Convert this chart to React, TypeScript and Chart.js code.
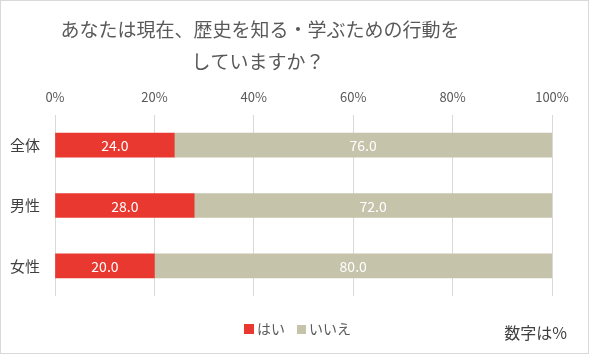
import React, { useEffect, useRef } from 'react';
import { Chart, registerables } from 'chart.js';
Chart.register(...registerables);

const categories = ['全体', '男性', '女性'];
const yesValues = [24.0, 28.0, 20.0];
const noValues = [76.0, 72.0, 80.0];
const seriesNames = ['はい', 'いいえ'];
const titleLines = ['あなたは現在、歴史を知る・学ぶための行動を', 'していますか？'];
const noteText = '数字は%';

const FONT = '"Noto Sans CJK JP", "Noto Sans", sans-serif';
const TEXT = '#595959';
const RED = '#E8382F';
const KHAKI = '#C5C3AA';

const labelPlugin = {
  id: 'valueLabels',
  afterDatasetsDraw(chart: any) {
    const ctx = chart.ctx;
    ctx.save();
    ctx.font = `14px ${FONT}`;
    ctx.fillStyle = '#ffffff';
    ctx.textAlign = 'center';
    ctx.textBaseline = 'middle';
    chart.data.datasets.forEach((ds: any, di: number) => {
      const meta = chart.getDatasetMeta(di);
      meta.data.forEach((el: any, i: number) => {
        const v = ds.data[i];
        const cx = (el.x + el.base) / 2;
        ctx.fillText(Number(v).toFixed(1), cx, el.y + 1);
      });
    });
    ctx.restore();
  },
};

const framePlugin = {
  id: 'frame',
  afterDraw(chart: any) {
    const ctx = chart.ctx;
    ctx.save();
    // frame
    ctx.strokeStyle = '#d9d9d9';
    ctx.lineWidth = 1;
    ctx.strokeRect(0.5, 0.5, chart.width - 1, chart.height - 1);
    // title
    ctx.font = `19px ${FONT}`;
    ctx.fillStyle = TEXT;
    ctx.textAlign = 'center';
    ctx.textBaseline = 'middle';
    ctx.fillText(titleLines[0], 260, 30);
    ctx.fillText(titleLines[1], 258, 62);
    // legend
    const ds = chart.data.datasets;
    ctx.font = `14px ${FONT}`;
    ctx.textAlign = 'left';
    ctx.fillStyle = ds[0].backgroundColor;
    ctx.fillRect(244, 324, 10, 10);
    ctx.fillStyle = TEXT;
    ctx.fillText(ds[0].label, 257, 329);
    ctx.fillStyle = ds[1].backgroundColor;
    ctx.fillRect(297, 325, 9, 9);
    ctx.fillStyle = TEXT;
    ctx.fillText(ds[1].label, 309, 329);
    // note
    ctx.font = `16px ${FONT}`;
    ctx.fillStyle = '#404040';
    ctx.textAlign = 'right';
    ctx.fillText(noteText, 567, 333);
    ctx.restore();
  },
};

export default function App() {
  const ref = useRef<HTMLCanvasElement>(null);
  useEffect(() => {
    if (!ref.current) return;
    const chart = new Chart(ref.current, {
      type: 'bar',
      data: {
        labels: categories,
        datasets: [
          { label: seriesNames[0], data: yesValues, backgroundColor: RED, barThickness: 24 },
          { label: seriesNames[1], data: noValues, backgroundColor: KHAKI, barThickness: 24 },
        ],
      },
      options: {
        indexAxis: 'y',
        animation: false,
        responsive: false,
        maintainAspectRatio: false,
        layout: { padding: { top: 85, left: 0, right: 37, bottom: 58 } },
        scales: {
          x: {
            stacked: true,
            position: 'top',
            min: 0,
            max: 100,
            afterFit: (s: any) => { s.height = 30; },
            ticks: {
              stepSize: 20,
              callback: (v: any) => `${v}%`,
              color: TEXT,
              font: { family: FONT, size: 13 },
              padding: 10,
            },
            grid: { color: '#d9d9d9', drawTicks: false, lineWidth: 1 },
            border: { display: false },
          },
          y: {
            stacked: true,
            afterFit: (s: any) => { s.width = 55; },
            ticks: { color: '#404040', font: { family: FONT, size: 15 }, padding: 15 },
            grid: { display: false, drawTicks: false },
            border: { display: false },
          },
        },
        plugins: {
          title: { display: false },
          legend: { display: false },
          tooltip: { enabled: false },
        },
      },
      plugins: [labelPlugin, framePlugin],
    });
    return () => chart.destroy();
  }, []);
  return (
    <div style={{ position: 'fixed', left: 0, top: 0, width: 589, height: 354, background: '#fff' }}>
      <canvas ref={ref} width={589} height={354} style={{ width: 589, height: 354, display: 'block' }} />
    </div>
  );
}
